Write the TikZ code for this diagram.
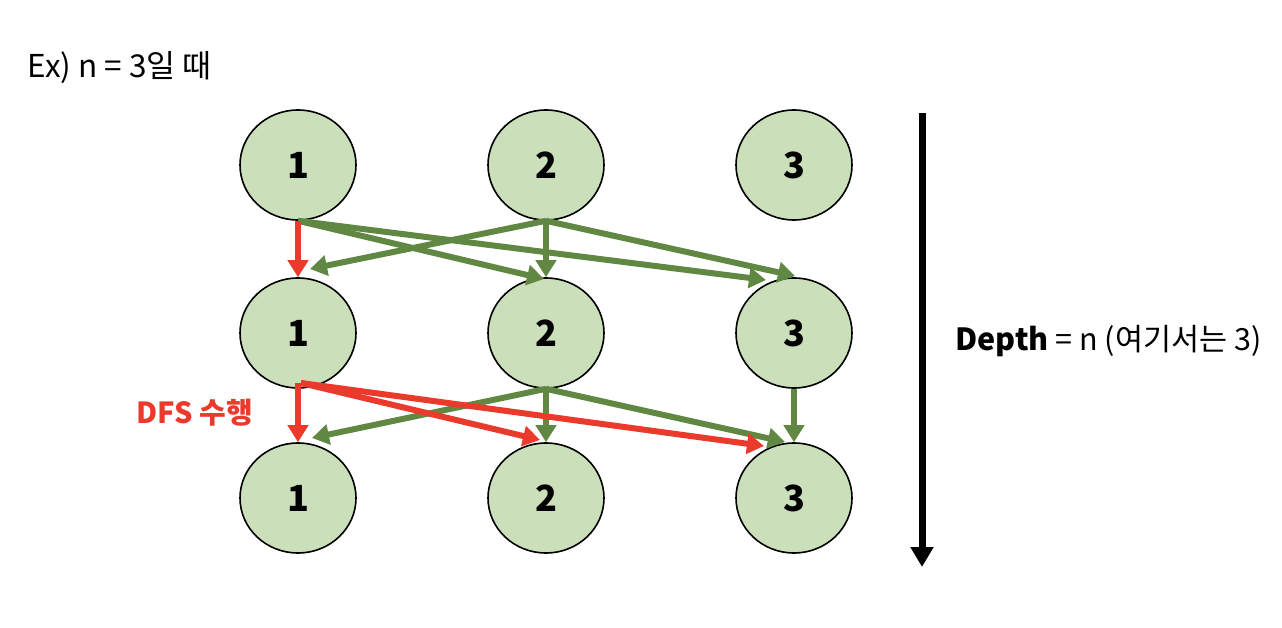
\documentclass[tikz,border=0pt]{standalone}
\usepackage{fontspec}
\setmainfont{Noto Sans CJK KR}
\usetikzlibrary{shapes.geometric,arrows.meta}
\definecolor{nodefill}{RGB}{203,223,187}
\definecolor{grn}{RGB}{97,136,66}
\definecolor{rd}{RGB}{234,58,43}
\tikzset{
  circ/.style={ellipse,draw=black,line width=1.6pt,fill=nodefill,minimum width=116pt,minimum height=110pt,inner sep=0pt,font=\fontsize{36}{40}\selectfont\bfseries},
  garrow/.style={draw=grn,line width=6pt,-{Triangle[width=20pt,length=17pt]}},
  rarrow/.style={draw=rd,line width=6pt,-{Triangle[width=20pt,length=17pt]}},
}
\begin{document}
\begin{tikzpicture}[x=1pt,y=-1pt]
\useasboundingbox (0,0) rectangle (1282,628);
% nodes
\foreach \c/\x in {1/298,2/546,3/794}{
  \node[circ] (r1c\c) at (\x,165) {\c};
  \node[circ] (r2c\c) at (\x,333) {\c};
  \node[circ] (r3c\c) at (\x,498) {\c};
}
% tips row1->row2
\coordinate (a1) at (310,269);
\coordinate (a2) at (544,279);
\coordinate (a3) at (766,280);
\coordinate (a4) at (795,276);
% tips row2->row3
\coordinate (b1) at (312,438);
\coordinate (b2) at (540,440);
\coordinate (b3) at (764,446);
\coordinate (b4) at (785,442);
% row1 -> row2
\draw[garrow] (r1c1.south) -- (a2);
\draw[garrow] (r1c1.south) -- (a3);
\draw[garrow] (r1c2.south) -- (a1);
\draw[garrow] (r1c2.south) -- (r2c2.north);
\draw[garrow] (r1c2.south) -- (a4);
\draw[rarrow] (r1c1.south) -- (r2c1.north);
% row2 -> row3
\draw[garrow] (r2c2.south) -- (b1);
\draw[garrow] (r2c2.south) -- (r3c2.north);
\draw[garrow] (r2c2.south) -- (b4);
\draw[garrow] (r2c3.south) -- (r3c3.north);
\coordinate (s) at (298,383);
\coordinate (s2) at (301,383);
\draw[rarrow] (s) -- (r3c1.north);
\draw[rarrow] (s2) -- (b2);
\draw[rarrow] (s2) -- (b3);
% depth arrow
\coordinate (d0) at (922,113);
\coordinate (d1) at (922,567);
\draw[line width=7pt,-{Triangle[width=22pt,length=20pt]}] (d0) -- (d1);
% texts
\node[anchor=west,font=\fontsize{31.5}{34}\selectfont] (ex) at (24,68) {Ex) n = 3일 때};
\node[anchor=west,font=\fontsize{30.5}{34}\selectfont] (dep) at (952,341) {\textbf{Depth} = n (여기서는 3)};
\node[anchor=west,text=rd,font=\fontsize{29}{32}\selectfont\bfseries] (dfs) at (133,413) {DFS 수행};
\end{tikzpicture}
\end{document}
